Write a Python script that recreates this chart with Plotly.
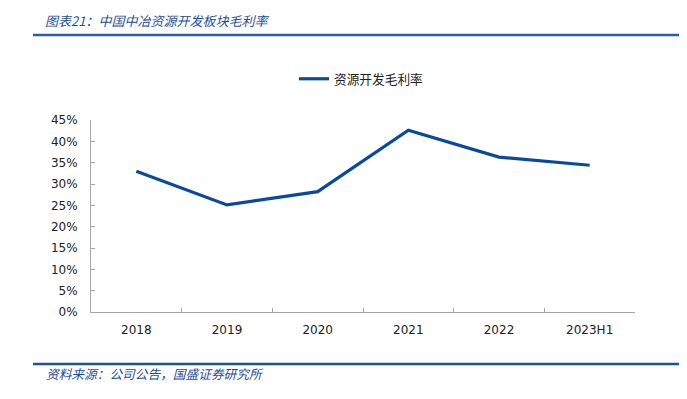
import plotly.graph_objects as go

categories = ["2018", "2019", "2020", "2021", "2022", "2023H1"]
margin_values = [33.0, 25.1, 28.2, 42.6, 36.3, 34.4]
series_name = "资源开发毛利率"
y_tick_values = [0, 5, 10, 15, 20, 25, 30, 35, 40, 45]
y_tick_labels = [f"{v}%" for v in y_tick_values]
title_text = "图表21：中国中冶资源开发板块毛利率"
source_text = "资料来源：公司公告，国盛证券研究所"

cjk = "Noto Sans CJK SC"
axis_color = "#a6a6a6"
line_color = "#0a4a9e"
header_color = "#2f5ea8"

# page body has an 8px margin; plot area on screen spans x 91..635, y 120..312
OFF = 8
PL, PR, PT, PB = 91, 635, 120, 312
PW, PH = PR - PL, PB - PT


def px(sx):
    return (sx - PL) / PW


def py(sy):
    return (PB - sy) / PH


fig = go.Figure()
fig.add_trace(go.Scatter(
    x=categories, y=margin_values, mode="lines", name=series_name,
    line=dict(color=line_color, width=3.2),
))

fig.update_layout(
    width=687 - OFF, height=399 - OFF,
    margin=dict(l=PL - OFF, r=687 - PR, t=PT - OFF, b=399 - PB),
    paper_bgcolor="white", plot_bgcolor="white",
    showlegend=True,
    legend=dict(
        orientation="h", x=px(294), xanchor="left", y=py(79), yanchor="middle",
        font=dict(family=cjk, size=12.7, color="#222222"),
        bgcolor="rgba(0,0,0,0)", itemwidth=30,
    ),
    xaxis=dict(
        type="category", range=[-0.5, 5.5],
        showline=True, linecolor=axis_color, linewidth=1,
        ticks="inside", tickson="boundaries", ticklen=4, tickcolor=axis_color,
        showgrid=False, zeroline=False,
        tickfont=dict(family="DejaVu Sans", size=12, color="#222222"),
        ticklabelstandoff=7,
    ),
    yaxis=dict(
        range=[0, 45], tickvals=y_tick_values, ticktext=y_tick_labels,
        showline=True, linecolor=axis_color, linewidth=1,
        ticks="inside", ticklen=4, tickcolor=axis_color,
        showgrid=False, zeroline=False,
        tickfont=dict(family="DejaVu Sans", size=12, color="#222222"),
        ticklabelstandoff=10,
    ),
    shapes=[
        dict(type="line", xref="paper", yref="paper",
             x0=px(33), x1=px(690), y0=py(35), y1=py(35),
             line=dict(color=header_color, width=2.5)),
        dict(type="line", xref="paper", yref="paper",
             x0=px(33), x1=px(690), y0=py(364), y1=py(364),
             line=dict(color="#1f4fa0", width=2.5)),
    ],
    annotations=[
        dict(text=f"<i>{title_text}</i>", xref="paper", yref="paper",
             x=px(43), y=py(20.5), xanchor="left", yanchor="middle",
             showarrow=False, font=dict(family=cjk, size=13, color="#1f4e9a")),
        dict(text=f"<i>{source_text}</i>", xref="paper", yref="paper",
             x=px(44), y=py(373), xanchor="left", yanchor="middle",
             showarrow=False, font=dict(family=cjk, size=12.7, color="#1f4e9a")),
    ],
)

fig.write_html("out.html")
